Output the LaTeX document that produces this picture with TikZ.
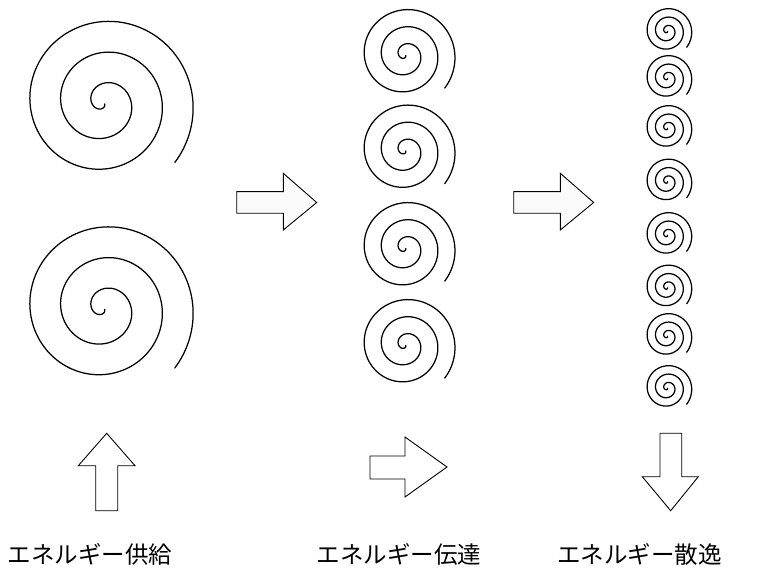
\documentclass[tikz,border=0pt]{standalone}
\usepackage{fontspec}
\newfontfamily\jpfont{Noto Sans CJK JP}
\begin{document}
\begin{tikzpicture}[x=1pt,y=-1pt,
  spiralline/.style={line width=1.25pt,line join=round,line cap=round},
  blockarrow/.style={draw=black,line width=0.9pt,fill=white,line join=miter},
  grayarrow/.style={blockarrow,fill=gray!4},
  lbl/.style={font=\jpfont\fontsize{23.5}{28}\selectfont,inner sep=0pt},
  pics/spiral/.style={code={
    \draw[spiralline] plot[domain=52:1120,samples=420,variable=\t]
      ({#1*0.0857*(\t-39)*cos(\t)},{#1*0.0857*(\t-39)*sin(\t)});
  }}
]
\fill[white] (0,0) rectangle (769,569);
\useasboundingbox (0,0) rectangle (769,569);

% supply column: two large spirals
\pic at (103.8,103) {spiral=1};
\pic at (103.8,308.5) {spiral=1};

% transfer column: four medium spirals
\foreach \cy in {55,150.5,248,345}
  \pic at (405.3,\cy) {spiral=0.556};

% dissipation column: eight small spirals
\foreach \cy in {31,78,128,181.5,235,287.5,336,388}
  \pic at (667.3,\cy) {spiral=0.273};

% arrows between the columns
\draw[grayarrow] (236.7,191.7) -- (283.3,191.7) -- (283.3,173.3) -- (316.7,202.5)
  -- (283.3,230) -- (283.3,213.3) -- (236.7,213.3) -- cycle;
\draw[grayarrow] (513.7,191.7) -- (560.3,191.7) -- (560.3,173.3) -- (593.7,202.5)
  -- (560.3,230) -- (560.3,213.3) -- (513.7,213.3) -- cycle;

% arrows above the labels
\draw[blockarrow] (95.7,510.7) -- (95.7,465.7) -- (78.3,465.7) -- (106.7,433.3)
  -- (135,465.7) -- (117.7,465.7) -- (117.7,510.7) -- cycle;
\draw[blockarrow] (370,456) -- (405,456) -- (405,437) -- (447,467)
  -- (405,497) -- (405,479) -- (370,479) -- cycle;
\draw[blockarrow] (660,433.3) -- (681.7,433.3) -- (681.7,476.7) -- (698.3,476.7)
  -- (670.7,510.7) -- (642.3,476.7) -- (660,476.7) -- cycle;

% labels
\node[lbl] (supply) at (90,554) {エネルギー供給};
\node[lbl] (transfer) at (399,554) {エネルギー伝達};
\node[lbl] (dissip) at (639.5,554) {エネルギー散逸};
\end{tikzpicture}
\end{document}
